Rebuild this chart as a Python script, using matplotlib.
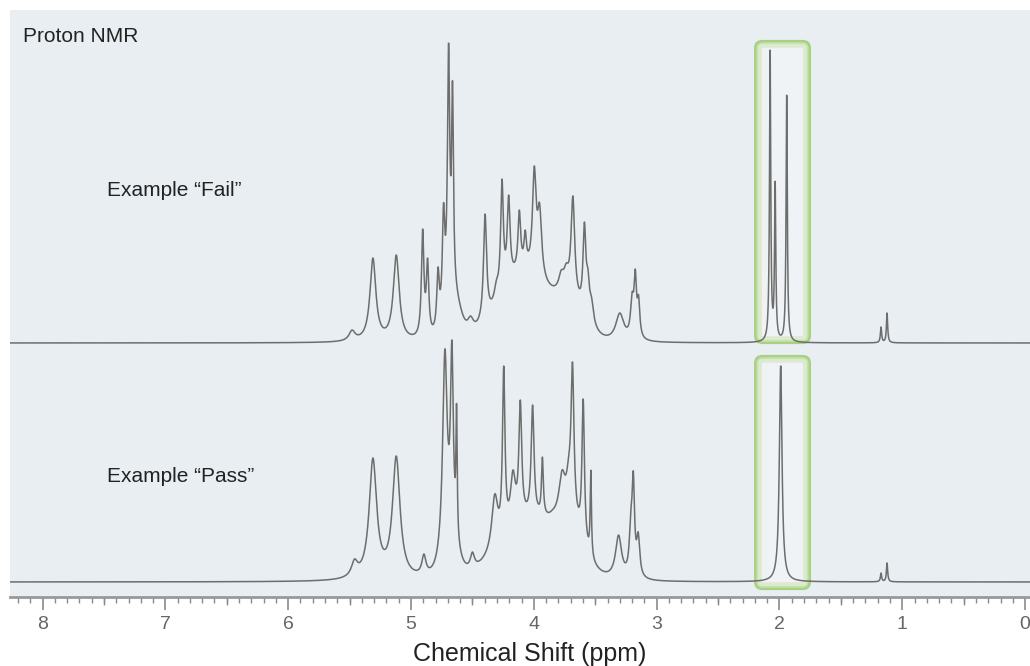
import numpy as np
import matplotlib
matplotlib.use('Agg')
import matplotlib.pyplot as plt
from matplotlib.patches import FancyBboxPatch
from matplotlib.ticker import MultipleLocator

plt.rcParams['font.family'] = ['Liberation Sans', 'DejaVu Sans']

# peaks: shift (ppm), apparent height, half width (ppm)
fail_ppm = [5.48, 5.31, 5.12, 4.905, 4.865, 4.78, 4.735, 4.694, 4.662, 4.515,
            4.397, 4.305, 4.259, 4.205, 4.118, 4.07, 4.034, 3.996, 3.953, 3.90,
            3.777, 3.736, 3.682, 3.588, 3.56, 3.53, 3.30, 3.20, 3.174, 3.147,
            2.076, 2.035, 1.941, 1.173, 1.124]
fail_h = [13, 85, 88, 114, 85, 76, 140, 300, 262, 27,
          129, 63, 164, 148, 133, 113, 85, 177, 140, 66,
          73, 80, 147, 121, 75, 46, 30, 51, 74, 48,
          293, 162, 249, 16, 30]
fail_w = [0.03, 0.029, 0.029, 0.012, 0.012, 0.012, 0.012, 0.011, 0.009, 0.03,
          0.015, 0.02, 0.013, 0.014, 0.013, 0.012, 0.01, 0.018, 0.02, 0.025,
          0.025, 0.025, 0.018, 0.014, 0.015, 0.02, 0.04, 0.015, 0.012, 0.012,
          0.006, 0.006, 0.006, 0.006, 0.006]
# broad underlying humps: centre, height, sigma
fail_bg_ppm = [4.66, 4.08, 3.70]
fail_bg_amp = [40, 68, 30]
fail_bg_s = [0.06, 0.2, 0.12]

pass_ppm = [5.46, 5.31, 5.12, 4.895, 4.724, 4.667, 4.629, 4.50, 4.318, 4.245,
            4.17, 4.11, 4.01, 3.93, 3.85, 3.77, 3.715, 3.685, 3.598, 3.536,
            3.31, 3.21, 3.19, 3.15, 1.99, 1.173, 1.124]
pass_h = [23, 124, 126, 28, 233, 242, 179, 30, 88, 216,
          112, 182, 177, 125, 72, 112, 127, 220, 183, 112,
          47, 72, 111, 50, 216, 9, 19]
pass_w = [0.03, 0.037, 0.037, 0.02, 0.022, 0.014, 0.006, 0.02, 0.03, 0.012,
          0.025, 0.014, 0.014, 0.009, 0.03, 0.03, 0.025, 0.014, 0.012, 0.006,
          0.03, 0.015, 0.012, 0.015, 0.013, 0.006, 0.006]
pass_bg_ppm = [4.68, 4.0, 3.70]
pass_bg_amp = [25, 60, 30]
pass_bg_s = [0.06, 0.25, 0.1]

fail_offset = 254
pass_offset = 15
box_ppm = (1.76, 2.19)
fail_box = (255, 555)
pass_box = (9, 240)


def lorentz(x, c, w):
    return w ** 2 / ((x - c) ** 2 + w ** 2)


def spectrum(x, ppm, h, w, bg_ppm, bg_amp, bg_s):
    ppm = np.array(ppm)
    h = np.array(h, float)
    w = np.array(w)

    def bg(v):
        return sum(a * np.exp(-0.5 * ((v - c) / s) ** 2)
                   for c, a, s in zip(bg_ppm, bg_amp, bg_s))

    # amplitudes so that the summed curve hits the read heights
    A = lorentz(ppm[:, None], ppm[None, :], w[None, :])
    target = h - bg(ppm)
    keep = np.ones(len(ppm), bool)
    amp = np.zeros(len(ppm))
    for _ in range(30):
        idx = np.where(keep)[0]
        sol = np.linalg.solve(A[np.ix_(idx, idx)], target[idx])
        amp[:] = 0
        amp[idx] = sol
        if (sol >= 0).all():
            break
        keep[idx[sol < 0]] = False
    amp = np.clip(amp, 0, None)
    return bg(x) + (amp[None, :] * lorentz(x[:, None], ppm[None, :], w[None, :])).sum(1)


x = np.linspace(8.3, -0.1, 9000)
fail_y = spectrum(x, fail_ppm, fail_h, fail_w, fail_bg_ppm, fail_bg_amp, fail_bg_s)
pass_y = spectrum(x, pass_ppm, pass_h, pass_w, pass_bg_ppm, pass_bg_amp, pass_bg_s)

fig = plt.figure(figsize=(10.3, 6.66), dpi=100)
ax = fig.add_axes([10 / 1030, 1 - 597 / 666, 1020 / 1030, 587 / 666])
ax.set_facecolor('#e8eef1')
ax.set_xlim(8.265, -0.04)
ax.set_ylim(0, 587)

ax.plot(x, fail_y + fail_offset, color='#6d6d6d', lw=1.1, zorder=3)
ax.plot(x, pass_y + pass_offset, color='#6d6d6d', lw=1.1, zorder=3)

for y0, y1 in [fail_box, pass_box]:
    ax.add_patch(FancyBboxPatch((box_ppm[0], y0), box_ppm[1] - box_ppm[0], y1 - y0,
                                boxstyle='round,pad=0,rounding_size=0.05',
                                mutation_aspect=122.8, facecolor='#f0f3f5',
                                edgecolor='#a8d183', lw=3, zorder=1))
    ax.add_patch(FancyBboxPatch((box_ppm[0] + 0.025, y0 + 3), box_ppm[1] - box_ppm[0] - 0.05,
                                y1 - y0 - 6, boxstyle='round,pad=0,rounding_size=0.03',
                                mutation_aspect=122.8, facecolor='none',
                                edgecolor='#d4e8bf', lw=4, alpha=0.7, zorder=2))

for s in ['top', 'left', 'right']:
    ax.spines[s].set_visible(False)
ax.spines['bottom'].set_color('#999999')
ax.spines['bottom'].set_linewidth(2)
ax.set_yticks([])
ax.xaxis.set_major_locator(MultipleLocator(1))
ax.xaxis.set_minor_locator(MultipleLocator(0.1))
ax.tick_params(axis='x', which='major', length=9, width=1.2, color='#8a8a8a',
               labelsize=14, labelcolor='#666666', pad=5)
ax.tick_params(axis='x', which='minor', length=4, width=1, color='#8a8a8a')

sec = ax.secondary_xaxis('bottom')
sec.set_xticks(np.arange(0.5, 8.5, 1.0))
sec.tick_params(length=6, width=1, color='#8a8a8a', labelbottom=False)
sec.spines['bottom'].set_visible(False)

fig.text(23 / 1030, 1 - 41.7 / 666, 'Proton NMR', fontsize=15, color='#222222', va='baseline')
fig.text(107 / 1030, 1 - 195.5 / 666, 'Example \u201cFail\u201d', fontsize=15, color='#222222', va='baseline')
fig.text(107 / 1030, 1 - 482.3 / 666, 'Example \u201cPass\u201d', fontsize=15, color='#222222', va='baseline')
fig.text(530 / 1030, 1 - 654 / 666, 'Chemical Shift (ppm)', fontsize=18, color='#222222',
         ha='center', va='center')

fig.savefig('out.png', dpi=100)
